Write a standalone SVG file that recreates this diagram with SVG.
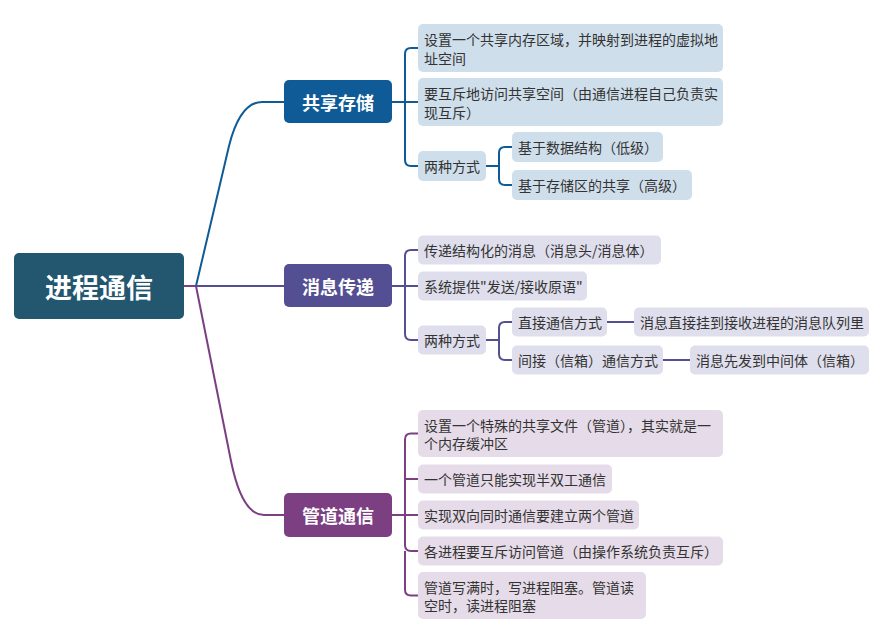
<svg xmlns="http://www.w3.org/2000/svg" width="883" height="633" viewBox="0 0 883 633">
<style>
text{font-family:"Noto Sans CJK SC","Microsoft YaHei",sans-serif;dominant-baseline:central}
.leaf{font-size:14px;fill:#333333}
.br{font-size:18px;font-weight:bold;fill:#ffffff;text-anchor:middle}
.root{font-size:27px;font-weight:bold;fill:#ffffff;text-anchor:middle}
.c{fill:none;stroke-width:2}
.cb{stroke:#0e5b97}.cm{stroke:#534f92}.cp{stroke:#7b3f82}
.fb{fill:#cfdeeb}.fm{fill:#dfdeec}.fp{fill:#e6dbe8}
</style>
<rect width="883" height="633" fill="#ffffff"/>
<g id="connectors">
<path class="c cp" d="M183 286 H196"/>
<path class="c cb" d="M196 286 L229 146 Q240 102 262 102 L284 102"/>
<path class="c cm" d="M196 286 H284"/>
<path class="c cp" d="M196 286 L231 461 Q242 515 264 515 L284 515"/>
<path class="c cb" d="M392 102 H418 M405 102 V54 Q405 48 411 48 H418 M405 102 V160 Q405 166 411 166 H418"/>
<path class="c cb" d="M486 166 H499 V153 Q499 147 505 147 H512 M499 166 V179 Q499 185 505 185 H512"/>
<path class="c cm" d="M392 286 H418 M405 286 V256 Q405 250 411 250 H418 M405 286 V334 Q405 340 411 340 H418"/>
<path class="c cm" d="M486 340 H499 V328 Q499 322 505 322 H512 M499 340 V354 Q499 360 505 360 H512"/>
<path class="c cm" d="M607 322 H634 M663 360 H690"/>
<path class="c cp" d="M392 515 H418 M405 515 V439.5 Q405 433.5 411 433.5 H418 M405 479 H418 M405 515 V545 Q405 551 411 551 H418 M405 551 V589.5 Q405 595.5 411 595.5 H418"/>
</g>
<g id="root"><rect x="14" y="253" width="170" height="66" rx="5" fill="#23566f"/><text class="root" x="99" y="286">进程通信</text></g>
<g id="n-gxcc"><rect x="284" y="80" width="108" height="43" rx="5" fill="#0e5b97"/><text class="br" x="338" y="101.5">共享存储</text></g>
<g id="n-xxcd"><rect x="284" y="264" width="108" height="43" rx="5" fill="#534f92"/><text class="br" x="338" y="285.5">消息传递</text></g>
<g id="n-gdtx"><rect x="284" y="493" width="108" height="44" rx="5" fill="#7b3f82"/><text class="br" x="338" y="515">管道通信</text></g>

<g id="g1-1"><rect class="fb" x="418" y="24" width="305" height="48" rx="5"/><text class="leaf" x="424" y="38.5">设置一个共享内存区域，并映射到进程的虚拟地</text><text class="leaf" x="424" y="57.5">址空间</text></g>
<g id="g1-2"><rect class="fb" x="418" y="78" width="305" height="48" rx="5"/><text class="leaf" x="424" y="92.5">要互斥地访问共享空间（由通信进程自己负责实</text><text class="leaf" x="424" y="111.5">现互斥）</text></g>
<g id="g1-3"><rect class="fb" x="418" y="151" width="68" height="30" rx="5"/><text class="leaf" x="424" y="166">两种方式</text></g>
<g id="g1-3-1"><rect class="fb" x="512" y="132" width="151" height="30" rx="5"/><text class="leaf" x="518" y="147">基于数据结构（低级）</text></g>
<g id="g1-3-2"><rect class="fb" x="512" y="170" width="180" height="30" rx="5"/><text class="leaf" x="518" y="185">基于存储区的共享（高级）</text></g>

<g id="g2-1"><rect class="fm" x="418" y="235.5" width="243" height="29" rx="5"/><text class="leaf" x="424" y="250">传递结构化的消息（消息头/消息体）</text></g>
<g id="g2-2"><rect class="fm" x="418" y="271.5" width="169" height="29" rx="5"/><text class="leaf" x="424" y="286">系统提供"发送/接收原语"</text></g>
<g id="g2-3"><rect class="fm" x="418" y="325.5" width="68" height="29" rx="5"/><text class="leaf" x="424" y="340">两种方式</text></g>
<g id="g2-3-1"><rect class="fm" x="512" y="307.5" width="95" height="29" rx="5"/><text class="leaf" x="518" y="322">直接通信方式</text></g>
<g id="g2-3-1-1"><rect class="fm" x="634" y="307.5" width="235" height="29" rx="5"/><text class="leaf" x="640" y="322">消息直接挂到接收进程的消息队列里</text></g>
<g id="g2-3-2"><rect class="fm" x="512" y="345.5" width="151" height="29" rx="5"/><text class="leaf" x="518" y="360">间接（信箱）通信方式</text></g>
<g id="g2-3-2-1"><rect class="fm" x="690" y="345.5" width="179" height="29" rx="5"/><text class="leaf" x="696" y="360">消息先发到中间体（信箱）</text></g>

<g id="g3-1"><rect class="fp" x="418" y="410" width="305" height="47" rx="5"/><text class="leaf" x="424" y="424.5">设置一个特殊的共享文件（管道），其实就是一</text><text class="leaf" x="424" y="443">个内存缓冲区</text></g>
<g id="g3-2"><rect class="fp" x="418" y="464.5" width="194" height="29" rx="5"/><text class="leaf" x="424" y="479">一个管道只能实现半双工通信</text></g>
<g id="g3-3"><rect class="fp" x="418" y="500.5" width="221" height="29" rx="5"/><text class="leaf" x="424" y="515">实现双向同时通信要建立两个管道</text></g>
<g id="g3-4"><rect class="fp" x="418" y="536.5" width="305" height="29" rx="5"/><text class="leaf" x="424" y="551">各进程要互斥访问管道（由操作系统负责互斥）</text></g>
<g id="g3-5"><rect class="fp" x="418" y="572" width="228" height="47" rx="5"/><text class="leaf" x="424" y="586.5">管道写满时，写进程阻塞。管道读</text><text class="leaf" x="424" y="605">空时，读进程阻塞</text></g>
</svg>
